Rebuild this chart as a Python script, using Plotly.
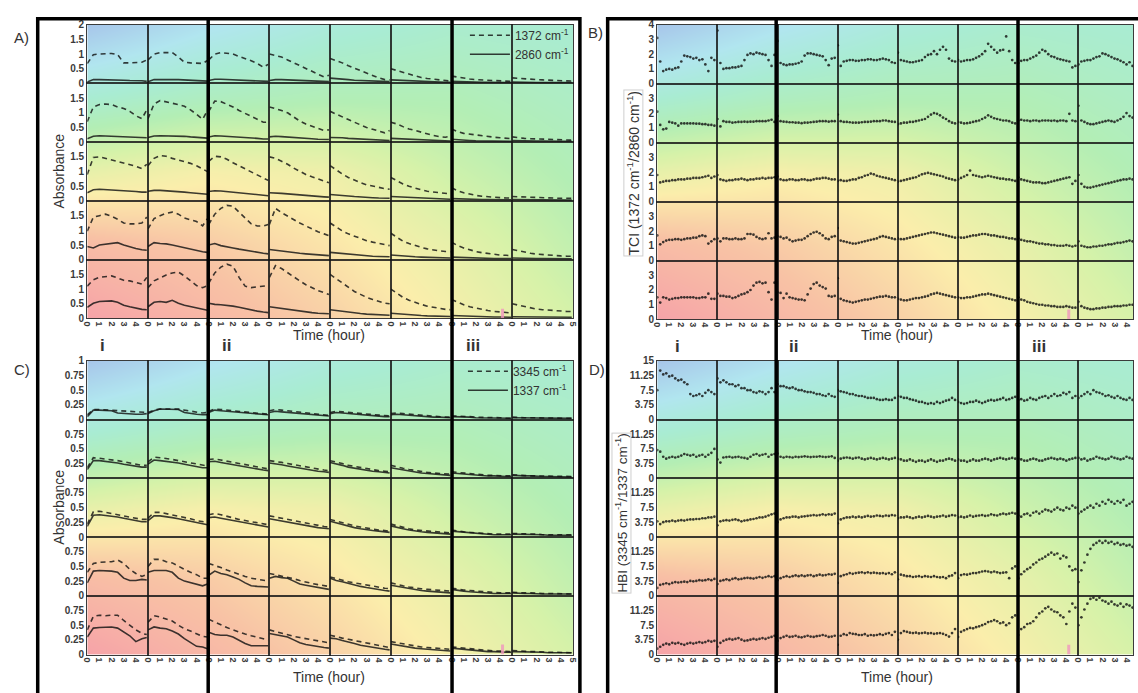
import plotly.graph_objects as go

W, H = 1138, 693

# sampling times (hours) inside every small panel
T_LINE = [0, 0.5, 1.0, 1.5, 2.0, 2.5, 3.0, 3.5, 4.0, 4.5, 4.9]
T_DOT = [0, 0.25, 0.5, 0.75, 1.0, 1.25, 1.5, 1.75, 2.0, 2.25,
         2.5, 2.75, 3.0, 3.25, 3.5, 3.75, 4.0, 4.25, 4.5, 4.75]

# ---------------- A: absorbance 1372 cm-1 (dashed) / 2860 cm-1 (solid) ----------------
A1372_R1 = [
    [0.68, 0.98, 1.00, 1.00, 1.02, 0.98, 0.70, 0.70, 0.70, 0.72, 0.80],
    [0.80, 1.00, 1.05, 1.05, 1.05, 0.90, 0.72, 0.70, 0.68, 0.68, 0.78],
    [0.80, 1.00, 1.05, 1.03, 1.00, 0.92, 0.85, 0.77, 0.68, 0.55, 0.65],
    [1.00, 0.95, 0.90, 0.80, 0.70, 0.62, 0.52, 0.42, 0.32, 0.22, 0.28],
    [0.85, 0.78, 0.70, 0.60, 0.52, 0.42, 0.34, 0.27, 0.19, 0.13, 0.12],
    [0.50, 0.44, 0.37, 0.30, 0.25, 0.20, 0.17, 0.14, 0.11, 0.09, 0.08],
    [0.25, 0.21, 0.18, 0.15, 0.13, 0.12, 0.10, 0.09, 0.08, 0.07, 0.07],
    [0.19, 0.17, 0.15, 0.14, 0.13, 0.12, 0.11, 0.10, 0.09, 0.08, 0.08],
]
A2860_R1 = [
    [0.05, 0.13, 0.13, 0.13, 0.12, 0.12, 0.11, 0.10, 0.10, 0.09, 0.07],
    [0.06, 0.13, 0.13, 0.14, 0.13, 0.13, 0.12, 0.11, 0.10, 0.09, 0.08],
    [0.10, 0.14, 0.14, 0.13, 0.13, 0.12, 0.11, 0.10, 0.09, 0.07, 0.07],
    [0.10, 0.13, 0.13, 0.12, 0.12, 0.11, 0.10, 0.09, 0.08, 0.07, 0.06],
    [0.18, 0.17, 0.15, 0.13, 0.11, 0.10, 0.09, 0.08, 0.07, 0.06, 0.06],
    [0.12, 0.11, 0.09, 0.08, 0.07, 0.06, 0.06, 0.05, 0.05, 0.04, 0.04],
    [0.07, 0.06, 0.05, 0.05, 0.04, 0.04, 0.04, 0.03, 0.03, 0.03, 0.03],
    [0.05, 0.04, 0.04, 0.04, 0.03, 0.03, 0.03, 0.03, 0.03, 0.03, 0.03],
]
A1372_R2 = [
    [0.70, 1.20, 1.28, 1.30, 1.28, 1.20, 1.15, 1.05, 0.90, 0.80, 1.10],
    [0.80, 1.30, 1.42, 1.38, 1.32, 1.28, 1.22, 1.10, 0.95, 0.78, 1.08],
    [1.05, 1.40, 1.38, 1.30, 1.20, 1.08, 0.98, 0.88, 0.78, 0.68, 0.68],
    [1.20, 1.15, 1.08, 1.00, 0.85, 0.72, 0.62, 0.55, 0.47, 0.40, 0.42],
    [1.05, 0.95, 0.85, 0.77, 0.68, 0.58, 0.50, 0.44, 0.38, 0.32, 0.40],
    [0.68, 0.62, 0.53, 0.45, 0.40, 0.34, 0.28, 0.23, 0.19, 0.17, 0.20],
    [0.45, 0.36, 0.30, 0.27, 0.24, 0.21, 0.19, 0.17, 0.15, 0.13, 0.12],
    [0.18, 0.15, 0.13, 0.12, 0.11, 0.10, 0.09, 0.08, 0.08, 0.07, 0.07],
]
A2860_R2 = [
    [0.12, 0.20, 0.22, 0.21, 0.21, 0.20, 0.20, 0.18, 0.17, 0.16, 0.15],
    [0.16, 0.21, 0.22, 0.22, 0.22, 0.22, 0.20, 0.18, 0.16, 0.14, 0.14],
    [0.18, 0.22, 0.21, 0.20, 0.19, 0.18, 0.17, 0.15, 0.13, 0.11, 0.11],
    [0.18, 0.20, 0.19, 0.18, 0.16, 0.15, 0.13, 0.12, 0.10, 0.09, 0.09],
    [0.16, 0.16, 0.15, 0.13, 0.12, 0.10, 0.09, 0.08, 0.07, 0.06, 0.06],
    [0.13, 0.12, 0.10, 0.09, 0.08, 0.07, 0.06, 0.05, 0.05, 0.04, 0.04],
    [0.10, 0.08, 0.07, 0.06, 0.05, 0.05, 0.04, 0.04, 0.03, 0.03, 0.03],
    [0.06, 0.05, 0.05, 0.04, 0.04, 0.04, 0.03, 0.03, 0.03, 0.03, 0.03],
]
A1372_R3 = [
    [0.90, 1.48, 1.50, 1.45, 1.40, 1.35, 1.30, 1.25, 1.18, 1.10, 1.25],
    [1.20, 1.45, 1.55, 1.52, 1.45, 1.40, 1.35, 1.28, 1.20, 1.10, 1.00],
    [1.35, 1.52, 1.50, 1.42, 1.30, 1.20, 1.10, 1.00, 0.90, 0.78, 0.70],
    [1.50, 1.45, 1.35, 1.25, 1.12, 1.00, 0.90, 0.82, 0.75, 0.68, 0.62],
    [1.20, 1.05, 0.92, 0.80, 0.70, 0.62, 0.55, 0.50, 0.45, 0.42, 0.40],
    [0.80, 0.68, 0.58, 0.50, 0.43, 0.38, 0.33, 0.30, 0.27, 0.25, 0.24],
    [0.45, 0.35, 0.28, 0.23, 0.19, 0.16, 0.14, 0.12, 0.11, 0.10, 0.10],
    [0.15, 0.14, 0.13, 0.12, 0.12, 0.11, 0.10, 0.10, 0.09, 0.09, 0.09],
]
A2860_R3 = [
    [0.28, 0.38, 0.40, 0.39, 0.38, 0.36, 0.35, 0.33, 0.32, 0.30, 0.30],
    [0.33, 0.36, 0.36, 0.35, 0.34, 0.32, 0.30, 0.28, 0.26, 0.24, 0.23],
    [0.32, 0.35, 0.34, 0.32, 0.30, 0.28, 0.26, 0.24, 0.22, 0.20, 0.18],
    [0.28, 0.28, 0.26, 0.24, 0.22, 0.20, 0.18, 0.16, 0.15, 0.14, 0.13],
    [0.22, 0.21, 0.19, 0.17, 0.15, 0.13, 0.12, 0.11, 0.10, 0.09, 0.09],
    [0.15, 0.14, 0.12, 0.11, 0.10, 0.09, 0.08, 0.07, 0.07, 0.06, 0.06],
    [0.08, 0.07, 0.06, 0.06, 0.05, 0.05, 0.05, 0.04, 0.04, 0.04, 0.04],
    [0.05, 0.05, 0.04, 0.04, 0.04, 0.04, 0.04, 0.03, 0.03, 0.03, 0.03],
]
A1372_R4 = [
    [0.97, 1.45, 1.50, 1.55, 1.48, 1.38, 1.25, 1.22, 1.22, 1.25, 1.45],
    [1.05, 1.40, 1.50, 1.58, 1.62, 1.55, 1.42, 1.35, 1.30, 1.15, 1.40],
    [1.20, 1.55, 1.75, 1.85, 1.82, 1.62, 1.40, 1.22, 1.15, 1.15, 1.20],
    [1.20, 1.75, 1.60, 1.48, 1.38, 1.25, 1.15, 1.05, 0.95, 0.88, 0.82],
    [1.25, 1.10, 0.98, 0.88, 0.80, 0.72, 0.65, 0.60, 0.55, 0.50, 0.48],
    [0.90, 0.75, 0.63, 0.55, 0.48, 0.42, 0.37, 0.33, 0.30, 0.28, 0.27],
    [0.60, 0.48, 0.40, 0.33, 0.28, 0.24, 0.21, 0.18, 0.16, 0.15, 0.14],
    [0.35, 0.30, 0.26, 0.22, 0.19, 0.17, 0.15, 0.14, 0.13, 0.12, 0.12],
]
A2860_R4 = [
    [0.45, 0.40, 0.50, 0.53, 0.55, 0.58, 0.50, 0.43, 0.38, 0.34, 0.32],
    [0.45, 0.58, 0.55, 0.54, 0.50, 0.45, 0.40, 0.36, 0.31, 0.27, 0.25],
    [0.50, 0.55, 0.48, 0.43, 0.40, 0.36, 0.32, 0.28, 0.25, 0.22, 0.20],
    [0.35, 0.32, 0.30, 0.27, 0.25, 0.22, 0.20, 0.18, 0.16, 0.15, 0.14],
    [0.25, 0.23, 0.20, 0.18, 0.16, 0.14, 0.13, 0.12, 0.11, 0.10, 0.10],
    [0.16, 0.14, 0.12, 0.11, 0.10, 0.09, 0.08, 0.07, 0.07, 0.06, 0.06],
    [0.09, 0.08, 0.07, 0.06, 0.06, 0.05, 0.05, 0.04, 0.04, 0.04, 0.04],
    [0.06, 0.05, 0.05, 0.05, 0.04, 0.04, 0.04, 0.04, 0.03, 0.03, 0.03],
]
A1372_R5 = [
    [1.10, 1.32, 1.40, 1.43, 1.45, 1.38, 1.30, 1.28, 1.22, 1.17, 1.40],
    [1.05, 1.28, 1.38, 1.48, 1.55, 1.58, 1.45, 1.28, 1.12, 1.05, 1.12],
    [1.20, 1.55, 1.75, 1.85, 1.78, 1.40, 1.10, 1.05, 1.08, 1.10, 1.12],
    [1.40, 1.80, 1.70, 1.55, 1.40, 1.28, 1.15, 1.05, 0.95, 0.88, 0.82],
    [1.50, 1.35, 1.20, 1.05, 0.92, 0.82, 0.72, 0.65, 0.58, 0.52, 0.50],
    [1.00, 0.85, 0.72, 0.62, 0.54, 0.48, 0.42, 0.38, 0.34, 0.31, 0.30],
    [0.65, 0.55, 0.47, 0.40, 0.35, 0.30, 0.27, 0.24, 0.22, 0.20, 0.19],
    [0.50, 0.45, 0.40, 0.36, 0.32, 0.30, 0.28, 0.26, 0.25, 0.24, 0.24],
]
A2860_R5 = [
    [0.38, 0.52, 0.58, 0.58, 0.60, 0.55, 0.45, 0.40, 0.35, 0.31, 0.30],
    [0.40, 0.55, 0.58, 0.55, 0.62, 0.52, 0.45, 0.40, 0.35, 0.30, 0.28],
    [0.52, 0.48, 0.47, 0.45, 0.42, 0.38, 0.33, 0.28, 0.25, 0.22, 0.20],
    [0.40, 0.37, 0.33, 0.30, 0.27, 0.24, 0.22, 0.20, 0.18, 0.17, 0.16],
    [0.30, 0.27, 0.24, 0.21, 0.19, 0.17, 0.15, 0.14, 0.13, 0.12, 0.11],
    [0.18, 0.16, 0.14, 0.12, 0.11, 0.10, 0.09, 0.08, 0.08, 0.07, 0.07],
    [0.10, 0.09, 0.08, 0.07, 0.06, 0.06, 0.05, 0.05, 0.05, 0.04, 0.04],
    [0.06, 0.06, 0.05, 0.05, 0.05, 0.04, 0.04, 0.04, 0.04, 0.04, 0.04],
]

# ---------------- B: TCI = A1372 / A2860 ----------------
TCI_R1 = [
    [3.1, 1.5, 0.85, 0.95, 1.0, 0.95, 1.05, 1.1, 1.5, 1.9, 1.85, 1.8, 1.7, 1.75, 1.6, 1.65, 1.3, 0.85, 1.75, 1.6],
    [3.6, 1.4, 1.0, 1.05, 1.05, 1.1, 1.1, 1.15, 1.2, 1.6, 1.95, 2.05, 2.0, 2.1, 2.05, 2.0, 1.95, 1.6, 1.2, 1.95],
    [2.9, 1.4, 1.3, 1.25, 1.3, 1.3, 1.35, 1.4, 1.5, 1.9, 2.05, 2.05, 2.0, 1.95, 1.9, 1.85, 1.6, 1.25, 1.7, 1.75],
    [2.6, 1.2, 1.5, 1.55, 1.6, 1.6, 1.55, 1.55, 1.6, 1.6, 1.65, 1.65, 1.6, 1.6, 1.65, 1.7, 1.65, 1.6, 1.45, 1.4],
    [2.1, 1.6, 1.55, 1.5, 1.45, 1.45, 1.5, 1.55, 1.6, 1.8, 1.95, 2.0, 2.2, 2.0, 2.3, 2.5, 2.3, 1.7, 1.55, 1.5],
    [1.6, 1.5, 1.55, 1.6, 1.6, 1.65, 1.75, 1.85, 2.0, 2.2, 2.7, 2.5, 2.3, 2.1, 2.25, 2.3, 3.2, 2.2, 1.6, 1.4],
    [1.4, 1.55, 1.6, 1.6, 1.7, 1.8, 1.9, 2.1, 2.3, 2.2, 2.0, 1.85, 1.8, 1.7, 1.65, 1.6, 1.55, 1.5, 1.1, 1.2],
    [1.3, 1.5, 1.55, 1.6, 1.6, 1.7, 1.8, 1.85, 2.05, 2.0, 1.9, 1.8, 1.7, 1.65, 1.55, 1.45, 1.3, 1.45, 1.2, 1.1],
]
TCI_R2 = [
    [2.1, 1.2, 0.9, 0.95, 1.4, 1.35, 1.3, 1.15, 1.3, 1.3, 1.3, 1.3, 1.3, 1.28, 1.28, 1.25, 1.25, 1.2, 1.2, 1.15],
    [1.6, 1.1, 1.45, 1.4, 1.4, 1.35, 1.38, 1.4, 1.4, 1.42, 1.4, 1.42, 1.42, 1.45, 1.45, 1.45, 1.45, 1.5, 1.55, 1.4],
    [1.8, 1.45, 1.42, 1.4, 1.38, 1.38, 1.35, 1.35, 1.32, 1.35, 1.35, 1.38, 1.4, 1.42, 1.45, 1.45, 1.45, 1.42, 1.45, 1.45],
    [1.9, 1.45, 1.4, 1.4, 1.38, 1.35, 1.35, 1.35, 1.38, 1.4, 1.4, 1.42, 1.45, 1.45, 1.45, 1.5, 1.5, 1.45, 1.42, 1.4],
    [1.25, 1.3, 1.35, 1.35, 1.4, 1.4, 1.45, 1.5, 1.55, 1.6, 1.75, 1.9, 2.0, 1.95, 1.85, 1.7, 1.6, 1.45, 1.35, 1.3],
    [1.4, 1.35, 1.3, 1.32, 1.35, 1.4, 1.45, 1.5, 1.6, 1.7, 1.85, 1.75, 1.65, 1.6, 1.55, 1.5, 1.5, 1.45, 1.35, 1.3],
    [1.5, 1.55, 1.5, 1.5, 1.45, 1.5, 1.5, 1.45, 1.5, 1.5, 1.5, 1.48, 1.5, 1.45, 1.5, 1.5, 1.45, 1.95, 1.5, 1.45],
    [2.5, 1.5, 1.4, 1.3, 1.25, 1.25, 1.3, 1.35, 1.4, 1.45, 1.5, 1.45, 1.4, 1.5, 1.6, 1.75, 2.0, 1.8, 1.7, 1.6],
]
TCI_R3 = [
    [1.8, 1.3, 1.35, 1.4, 1.4, 1.45, 1.45, 1.5, 1.5, 1.5, 1.55, 1.55, 1.6, 1.6, 1.6, 1.65, 1.7, 1.75, 1.6, 1.7],
    [1.8, 1.5, 1.45, 1.4, 1.45, 1.45, 1.5, 1.5, 1.55, 1.5, 1.45, 1.5, 1.5, 1.55, 1.55, 1.6, 1.55, 1.6, 1.6, 1.65],
    [1.7, 1.5, 1.45, 1.45, 1.5, 1.5, 1.45, 1.45, 1.5, 1.5, 1.45, 1.45, 1.5, 1.55, 1.55, 1.6, 1.6, 1.55, 1.5, 1.5],
    [1.4, 1.45, 1.4, 1.4, 1.45, 1.5, 1.5, 1.6, 1.65, 1.75, 1.8, 1.9, 1.85, 1.75, 1.7, 1.65, 1.6, 1.55, 1.5, 1.45],
    [1.35, 1.4, 1.45, 1.5, 1.55, 1.6, 1.65, 1.75, 1.85, 1.9, 1.95, 1.9, 1.85, 1.8, 1.75, 1.7, 1.6, 1.55, 1.5, 1.45],
    [1.5, 1.6, 1.7, 1.8, 2.1, 1.8, 1.75, 1.7, 1.65, 1.7, 1.75, 1.7, 1.65, 1.6, 1.55, 1.55, 1.5, 1.5, 1.45, 1.4],
    [1.65, 1.5, 1.45, 1.4, 1.35, 1.3, 1.3, 1.3, 1.25, 1.25, 1.3, 1.35, 1.4, 1.45, 1.5, 1.55, 1.6, 1.65, 1.2, 1.4],
    [1.8, 1.2, 1.0, 0.95, 0.95, 1.0, 1.05, 1.1, 1.15, 1.2, 1.25, 1.3, 1.35, 1.4, 1.45, 1.5, 1.5, 1.55, 1.5, 1.45],
]
TCI_R4 = [
    [1.7, 1.1, 1.25, 1.35, 1.4, 1.4, 1.45, 1.45, 1.4, 1.45, 1.5, 1.5, 1.55, 1.55, 1.65, 1.7, 1.65, 1.15, 1.3, 1.45],
    [1.5, 1.3, 1.5, 1.5, 1.45, 1.45, 1.5, 1.45, 1.45, 1.5, 1.8, 1.8, 1.75, 1.6, 1.5, 1.45, 1.5, 1.85, 1.5, 1.55],
    [1.65, 1.6, 1.5, 1.55, 1.4, 1.3, 1.35, 1.4, 1.4, 1.5, 1.65, 1.8, 1.9, 1.95, 1.85, 1.7, 1.5, 1.45, 1.6, 1.65],
    [2.2, 1.35, 1.3, 1.25, 1.2, 1.15, 1.15, 1.2, 1.25, 1.3, 1.35, 1.4, 1.45, 1.5, 1.6, 1.65, 1.6, 1.55, 1.5, 1.45],
    [1.5, 1.45, 1.45, 1.5, 1.55, 1.6, 1.65, 1.7, 1.75, 1.8, 1.85, 1.9, 1.9, 1.85, 1.8, 1.75, 1.7, 1.65, 1.6, 1.55],
    [1.6, 1.55, 1.55, 1.6, 1.65, 1.7, 1.7, 1.75, 1.8, 1.8, 1.75, 1.7, 1.7, 1.65, 1.6, 1.6, 1.55, 1.5, 1.5, 1.45],
    [1.5, 1.4, 1.35, 1.3, 1.3, 1.25, 1.2, 1.15, 1.15, 1.1, 1.1, 1.05, 1.05, 1.0, 1.0, 1.0, 1.05, 1.0, 0.95, 1.0],
    [1.3, 1.0, 0.95, 0.9, 0.9, 0.95, 0.95, 1.0, 1.0, 1.05, 1.1, 1.1, 1.15, 1.2, 1.2, 1.25, 1.3, 1.35, 1.3, 1.35],
]
TCI_R5 = [
    [1.5, 1.15, 1.5, 1.45, 1.35, 1.4, 1.45, 1.45, 1.5, 1.5, 1.5, 1.5, 1.5, 1.45, 1.45, 1.5, 1.5, 1.75, 1.4, 1.4],
    [1.75, 1.6, 1.6, 1.55, 1.55, 1.45, 1.5, 1.6, 1.7, 1.75, 1.85, 2.0, 2.3, 2.5, 2.55, 2.45, 2.5, 1.85, 1.35, 2.5],
    [1.85, 1.8, 1.45, 1.75, 1.5, 1.45, 1.4, 1.35, 1.35, 1.3, 1.7, 2.1, 2.4, 2.5, 2.3, 2.2, 2.1, 1.6, 1.55, 1.6],
    [2.8, 1.4, 1.3, 1.25, 1.2, 1.15, 1.2, 1.25, 1.3, 1.35, 1.35, 1.4, 1.45, 1.5, 1.55, 1.55, 1.6, 1.55, 1.5, 1.5],
    [1.4, 1.35, 1.3, 1.3, 1.35, 1.4, 1.45, 1.45, 1.5, 1.55, 1.6, 1.7, 1.75, 1.8, 1.75, 1.7, 1.65, 1.6, 1.55, 1.5],
    [1.5, 1.45, 1.45, 1.5, 1.5, 1.55, 1.6, 1.65, 1.7, 1.7, 1.75, 1.7, 1.65, 1.6, 1.55, 1.5, 1.45, 1.4, 1.35, 1.3],
    [1.5, 1.35, 1.3, 1.2, 1.15, 1.1, 1.05, 1.0, 1.0, 0.95, 0.95, 0.9, 0.9, 0.85, 0.85, 0.85, 0.9, 0.85, 0.8, 0.8],
    [1.2, 0.9, 0.8, 0.75, 0.7, 0.7, 0.75, 0.75, 0.8, 0.8, 0.85, 0.85, 0.9, 0.9, 0.9, 0.95, 0.95, 1.0, 1.0, 1.0],
]

# ---------------- C: absorbance 3345 cm-1 (dashed) / 1337 cm-1 (solid) ----------------
C3345_R1 = [
    [0.08, 0.17, 0.17, 0.17, 0.16, 0.15, 0.15, 0.14, 0.13, 0.12, 0.12],
    [0.12, 0.16, 0.18, 0.18, 0.18, 0.18, 0.16, 0.14, 0.12, 0.11, 0.12],
    [0.14, 0.18, 0.17, 0.16, 0.15, 0.14, 0.13, 0.12, 0.10, 0.09, 0.09],
    [0.15, 0.17, 0.16, 0.15, 0.14, 0.12, 0.11, 0.10, 0.09, 0.08, 0.07],
    [0.12, 0.14, 0.13, 0.12, 0.11, 0.10, 0.09, 0.08, 0.07, 0.06, 0.06],
    [0.10, 0.11, 0.10, 0.09, 0.08, 0.07, 0.06, 0.05, 0.05, 0.04, 0.04],
    [0.06, 0.06, 0.05, 0.05, 0.04, 0.04, 0.03, 0.03, 0.03, 0.02, 0.02],
    [0.04, 0.03, 0.03, 0.03, 0.03, 0.02, 0.02, 0.02, 0.02, 0.02, 0.02],
]
C1337_R1 = [
    [0.05, 0.16, 0.16, 0.16, 0.15, 0.11, 0.10, 0.10, 0.09, 0.09, 0.10],
    [0.10, 0.15, 0.18, 0.18, 0.18, 0.17, 0.12, 0.10, 0.09, 0.08, 0.08],
    [0.12, 0.16, 0.15, 0.14, 0.13, 0.12, 0.11, 0.10, 0.09, 0.08, 0.08],
    [0.12, 0.14, 0.13, 0.12, 0.11, 0.10, 0.09, 0.08, 0.07, 0.06, 0.06],
    [0.10, 0.12, 0.11, 0.10, 0.09, 0.08, 0.07, 0.06, 0.05, 0.05, 0.05],
    [0.08, 0.09, 0.08, 0.07, 0.06, 0.05, 0.05, 0.04, 0.04, 0.03, 0.03],
    [0.05, 0.05, 0.04, 0.04, 0.03, 0.03, 0.03, 0.02, 0.02, 0.02, 0.02],
    [0.03, 0.03, 0.03, 0.02, 0.02, 0.02, 0.02, 0.02, 0.02, 0.02, 0.02],
]
C3345_R2 = [
    [0.18, 0.35, 0.34, 0.33, 0.32, 0.30, 0.28, 0.26, 0.24, 0.22, 0.22],
    [0.28, 0.36, 0.35, 0.34, 0.32, 0.30, 0.28, 0.26, 0.24, 0.22, 0.21],
    [0.32, 0.33, 0.31, 0.29, 0.27, 0.25, 0.23, 0.21, 0.19, 0.17, 0.16],
    [0.30, 0.29, 0.27, 0.25, 0.23, 0.21, 0.19, 0.17, 0.15, 0.14, 0.13],
    [0.30, 0.28, 0.25, 0.22, 0.20, 0.18, 0.16, 0.14, 0.13, 0.12, 0.11],
    [0.22, 0.19, 0.17, 0.15, 0.13, 0.11, 0.10, 0.09, 0.08, 0.07, 0.07],
    [0.11, 0.10, 0.08, 0.07, 0.06, 0.06, 0.05, 0.05, 0.04, 0.04, 0.04],
    [0.06, 0.05, 0.05, 0.04, 0.04, 0.04, 0.03, 0.03, 0.03, 0.03, 0.03],
]
C1337_R2 = [
    [0.15, 0.30, 0.30, 0.29, 0.28, 0.26, 0.24, 0.22, 0.20, 0.19, 0.19],
    [0.24, 0.31, 0.30, 0.29, 0.28, 0.26, 0.24, 0.22, 0.20, 0.18, 0.18],
    [0.28, 0.29, 0.27, 0.25, 0.23, 0.21, 0.19, 0.17, 0.15, 0.14, 0.13],
    [0.26, 0.25, 0.23, 0.21, 0.19, 0.17, 0.15, 0.14, 0.12, 0.11, 0.10],
    [0.27, 0.25, 0.22, 0.19, 0.17, 0.15, 0.13, 0.12, 0.11, 0.10, 0.09],
    [0.18, 0.16, 0.14, 0.12, 0.10, 0.09, 0.08, 0.07, 0.06, 0.06, 0.05],
    [0.09, 0.08, 0.07, 0.06, 0.05, 0.05, 0.04, 0.04, 0.03, 0.03, 0.03],
    [0.05, 0.04, 0.04, 0.04, 0.03, 0.03, 0.03, 0.03, 0.03, 0.02, 0.02],
]
C3345_R3 = [
    [0.22, 0.43, 0.44, 0.42, 0.40, 0.38, 0.36, 0.34, 0.32, 0.30, 0.30],
    [0.32, 0.42, 0.42, 0.40, 0.38, 0.36, 0.34, 0.31, 0.28, 0.26, 0.25],
    [0.38, 0.40, 0.38, 0.35, 0.32, 0.30, 0.28, 0.26, 0.24, 0.22, 0.21],
    [0.36, 0.34, 0.32, 0.29, 0.27, 0.25, 0.23, 0.21, 0.19, 0.18, 0.17],
    [0.30, 0.27, 0.24, 0.21, 0.19, 0.17, 0.15, 0.13, 0.12, 0.11, 0.10],
    [0.22, 0.19, 0.16, 0.14, 0.12, 0.11, 0.10, 0.09, 0.08, 0.07, 0.07],
    [0.12, 0.10, 0.09, 0.08, 0.07, 0.06, 0.06, 0.05, 0.05, 0.05, 0.05],
    [0.06, 0.06, 0.05, 0.05, 0.05, 0.04, 0.04, 0.04, 0.04, 0.04, 0.04],
]
C1337_R3 = [
    [0.18, 0.37, 0.38, 0.37, 0.36, 0.34, 0.32, 0.30, 0.28, 0.26, 0.26],
    [0.28, 0.36, 0.36, 0.35, 0.33, 0.31, 0.29, 0.27, 0.24, 0.22, 0.21],
    [0.33, 0.34, 0.32, 0.30, 0.28, 0.26, 0.24, 0.22, 0.20, 0.18, 0.17],
    [0.31, 0.29, 0.27, 0.25, 0.23, 0.21, 0.19, 0.17, 0.16, 0.15, 0.14],
    [0.27, 0.24, 0.21, 0.18, 0.16, 0.14, 0.12, 0.11, 0.10, 0.09, 0.08],
    [0.19, 0.16, 0.14, 0.12, 0.10, 0.09, 0.08, 0.07, 0.06, 0.06, 0.05],
    [0.10, 0.09, 0.08, 0.07, 0.06, 0.05, 0.05, 0.04, 0.04, 0.04, 0.04],
    [0.05, 0.05, 0.04, 0.04, 0.04, 0.04, 0.03, 0.03, 0.03, 0.03, 0.03],
]
C3345_R4 = [
    [0.40, 0.55, 0.57, 0.57, 0.58, 0.61, 0.55, 0.45, 0.38, 0.33, 0.36],
    [0.50, 0.62, 0.62, 0.58, 0.56, 0.50, 0.45, 0.40, 0.36, 0.30, 0.30],
    [0.55, 0.52, 0.48, 0.44, 0.40, 0.36, 0.33, 0.30, 0.28, 0.27, 0.25],
    [0.38, 0.36, 0.34, 0.32, 0.29, 0.26, 0.23, 0.21, 0.19, 0.17, 0.16],
    [0.32, 0.29, 0.26, 0.24, 0.22, 0.20, 0.18, 0.16, 0.14, 0.13, 0.12],
    [0.22, 0.19, 0.17, 0.15, 0.13, 0.12, 0.11, 0.10, 0.09, 0.08, 0.08],
    [0.13, 0.11, 0.10, 0.09, 0.08, 0.07, 0.06, 0.06, 0.05, 0.05, 0.05],
    [0.06, 0.05, 0.05, 0.05, 0.04, 0.04, 0.04, 0.04, 0.03, 0.03, 0.03],
]
C1337_R4 = [
    [0.22, 0.42, 0.43, 0.43, 0.42, 0.40, 0.30, 0.26, 0.26, 0.28, 0.27],
    [0.40, 0.43, 0.43, 0.43, 0.40, 0.30, 0.25, 0.22, 0.20, 0.17, 0.20],
    [0.35, 0.42, 0.38, 0.36, 0.32, 0.28, 0.22, 0.17, 0.16, 0.16, 0.15],
    [0.30, 0.33, 0.31, 0.30, 0.25, 0.20, 0.18, 0.16, 0.14, 0.12, 0.11],
    [0.30, 0.26, 0.24, 0.21, 0.18, 0.16, 0.14, 0.12, 0.10, 0.09, 0.08],
    [0.18, 0.16, 0.14, 0.12, 0.10, 0.09, 0.08, 0.07, 0.06, 0.06, 0.05],
    [0.11, 0.09, 0.08, 0.07, 0.06, 0.05, 0.05, 0.04, 0.04, 0.04, 0.04],
    [0.05, 0.04, 0.04, 0.04, 0.03, 0.03, 0.03, 0.03, 0.03, 0.03, 0.03],
]
C3345_R5 = [
    [0.42, 0.65, 0.67, 0.66, 0.67, 0.67, 0.58, 0.50, 0.42, 0.36, 0.34],
    [0.55, 0.66, 0.64, 0.61, 0.57, 0.50, 0.44, 0.40, 0.36, 0.31, 0.30],
    [0.60, 0.55, 0.50, 0.46, 0.42, 0.38, 0.35, 0.32, 0.30, 0.27, 0.25],
    [0.42, 0.39, 0.36, 0.34, 0.31, 0.29, 0.27, 0.25, 0.23, 0.21, 0.20],
    [0.33, 0.30, 0.28, 0.26, 0.24, 0.22, 0.19, 0.17, 0.15, 0.13, 0.12],
    [0.22, 0.20, 0.18, 0.16, 0.14, 0.13, 0.12, 0.11, 0.10, 0.09, 0.09],
    [0.13, 0.12, 0.10, 0.09, 0.08, 0.08, 0.07, 0.06, 0.06, 0.05, 0.05],
    [0.07, 0.06, 0.05, 0.05, 0.05, 0.04, 0.04, 0.04, 0.04, 0.03, 0.03],
]
C1337_R5 = [
    [0.30, 0.45, 0.46, 0.47, 0.47, 0.45, 0.38, 0.32, 0.22, 0.27, 0.29],
    [0.42, 0.47, 0.45, 0.44, 0.40, 0.35, 0.27, 0.20, 0.14, 0.13, 0.10],
    [0.38, 0.34, 0.33, 0.33, 0.30, 0.24, 0.19, 0.15, 0.15, 0.16, 0.15],
    [0.36, 0.34, 0.32, 0.30, 0.25, 0.20, 0.17, 0.15, 0.13, 0.12, 0.11],
    [0.28, 0.27, 0.24, 0.22, 0.19, 0.16, 0.14, 0.12, 0.10, 0.09, 0.08],
    [0.18, 0.16, 0.14, 0.12, 0.11, 0.10, 0.09, 0.08, 0.07, 0.06, 0.06],
    [0.11, 0.10, 0.08, 0.07, 0.06, 0.06, 0.05, 0.05, 0.04, 0.04, 0.04],
    [0.05, 0.05, 0.04, 0.04, 0.04, 0.04, 0.03, 0.03, 0.03, 0.03, 0.03],
]

# ---------------- D: HBI = A3345 / A1337 ----------------
HBI_R1 = [
    [7.5, 12.5, 11.5, 11.8, 11.0, 11.2, 10.5, 10.0, 10.2, 9.5, 9.0, 6.5, 6.0, 6.2, 6.5, 6.0, 6.8, 7.5, 7.0, 6.5],
    [10.5, 9.5, 10.0, 9.5, 9.0, 9.0, 8.5, 8.8, 8.0, 8.0, 7.5, 7.5, 7.0, 6.8, 7.2, 7.0, 6.5, 7.0, 8.0, 7.0],
    [9.0, 8.5, 8.5, 8.2, 8.0, 8.2, 7.8, 7.5, 7.5, 7.2, 7.0, 7.0, 6.8, 6.5, 6.5, 6.2, 6.0, 6.5, 6.0, 5.8],
    [7.5, 7.2, 7.0, 6.8, 6.5, 6.5, 6.2, 6.0, 6.0, 5.8, 5.5, 5.5, 5.5, 5.2, 5.0, 5.0, 5.2, 5.0, 5.0, 5.5],
    [6.0, 5.8, 5.5, 5.5, 5.2, 5.0, 4.8, 4.5, 4.5, 4.2, 4.0, 4.2, 4.0, 4.5, 4.2, 4.5, 4.8, 5.0, 5.5, 5.0],
    [4.5, 4.2, 4.0, 4.2, 4.5, 4.5, 4.8, 4.5, 4.2, 4.5, 4.8, 5.0, 4.8, 5.0, 5.2, 5.5, 5.0, 5.2, 5.5, 5.8],
    [5.0, 5.2, 4.8, 5.0, 5.5, 5.2, 5.0, 5.5, 5.8, 6.0, 5.5, 6.0, 6.5, 6.0, 6.2, 6.8, 6.5, 7.0, 5.5, 6.0],
    [5.5, 6.0, 6.5, 7.0, 6.5, 7.5, 7.0, 6.8, 6.5, 6.0, 6.2, 5.8, 5.5, 6.0, 5.5, 5.2, 5.0, 5.5, 5.0, 5.2],
]
HBI_R2 = [
    [7.2, 6.8, 5.5, 5.0, 5.3, 5.5, 5.3, 5.5, 5.8, 6.2, 6.0, 5.8, 6.0, 5.5, 5.8, 6.0, 5.5, 6.0, 6.5, 7.5],
    [4.8, 4.0, 5.3, 5.4, 5.5, 5.3, 5.4, 5.5, 5.3, 5.2, 5.0, 5.5, 6.0, 6.2, 5.8, 6.0, 6.2, 5.5, 6.0, 6.2],
    [6.3, 5.5, 5.3, 5.5, 5.4, 5.3, 5.5, 5.4, 5.5, 5.6, 5.5, 5.4, 5.5, 5.5, 5.6, 5.5, 5.4, 5.5, 5.6, 5.2],
    [4.5, 5.0, 5.2, 5.3, 5.2, 5.0, 5.2, 5.3, 5.0, 4.8, 5.0, 5.2, 5.0, 4.8, 5.0, 5.2, 5.0, 4.8, 5.0, 5.2],
    [5.0, 4.8, 4.5, 4.5, 4.8, 4.5, 4.2, 4.5, 4.5, 4.2, 4.5, 4.8, 4.5, 4.2, 4.5, 4.5, 4.8, 5.0, 4.8, 4.5],
    [4.8, 4.5, 4.5, 4.2, 4.5, 4.8, 4.5, 4.5, 4.8, 5.0, 4.8, 4.5, 4.8, 5.0, 5.2, 5.0, 4.8, 5.0, 5.2, 5.0],
    [5.0, 4.8, 4.5, 4.5, 4.8, 5.0, 4.8, 4.5, 4.5, 4.8, 5.0, 5.2, 5.0, 4.8, 5.0, 4.8, 4.5, 4.8, 5.0, 5.2],
    [5.2, 4.8, 5.0, 4.5, 4.8, 5.0, 5.5, 5.2, 5.0, 4.8, 5.0, 5.5, 5.2, 5.0, 4.8, 5.0, 5.5, 5.2, 5.0, 5.5],
]
HBI_R3 = [
    [4.0, 3.3, 3.8, 4.0, 4.0, 4.2, 4.0, 4.2, 4.3, 4.2, 4.4, 4.5, 4.5, 4.6, 4.6, 4.8, 4.8, 5.0, 5.0, 5.2],
    [3.0, 4.0, 4.2, 4.3, 4.2, 4.4, 4.5, 4.3, 4.0, 4.2, 4.3, 4.5, 4.6, 4.8, 5.0, 5.0, 5.2, 5.5, 5.8, 6.0],
    [3.8, 4.5, 4.8, 5.0, 5.0, 5.2, 5.2, 5.0, 5.2, 5.3, 5.4, 5.5, 5.6, 5.5, 5.6, 5.8, 5.6, 5.8, 5.7, 6.0],
    [3.5, 4.5, 4.8, 5.0, 5.0, 5.2, 5.0, 5.2, 5.0, 5.2, 5.4, 5.2, 5.3, 5.5, 5.4, 5.3, 5.5, 5.4, 5.6, 5.5],
    [4.8, 5.0, 5.0, 5.2, 5.0, 4.8, 5.0, 5.2, 5.0, 5.2, 5.4, 5.2, 5.0, 5.2, 5.3, 5.5, 5.2, 5.4, 5.6, 5.5],
    [5.0, 5.2, 5.0, 5.2, 5.5, 5.2, 5.4, 5.5, 5.6, 5.4, 5.5, 5.8, 5.6, 5.5, 5.8, 6.0, 5.8, 6.0, 6.2, 6.0],
    [5.5, 5.2, 5.8, 6.0, 5.5, 6.2, 6.5, 6.0, 6.5, 7.0, 6.8, 6.5, 7.0, 7.5, 7.0, 6.8, 7.5, 7.2, 8.0, 7.5],
    [6.0, 6.5, 7.0, 7.5, 8.0, 7.5, 8.5, 8.0, 9.0, 8.5, 9.5, 9.0, 8.5, 9.2, 8.8, 9.5, 8.0, 8.5, 9.0, 8.5],
]
HBI_R4 = [
    [2.0, 2.8, 3.0, 3.2, 3.0, 3.3, 3.5, 3.4, 3.5, 3.6, 3.5, 3.8, 3.7, 3.8, 4.0, 3.9, 4.0, 4.2, 4.0, 4.3],
    [3.0, 3.8, 4.0, 4.2, 4.0, 4.3, 4.5, 4.2, 4.3, 4.5, 4.6, 4.5, 4.4, 4.6, 4.8, 4.6, 4.8, 5.0, 4.8, 5.0],
    [4.0, 4.5, 4.8, 5.0, 4.8, 5.0, 5.2, 5.0, 5.2, 5.0, 5.2, 5.3, 5.0, 5.2, 5.4, 5.2, 5.3, 5.5, 5.4, 5.6],
    [3.3, 5.0, 5.3, 5.5, 5.8, 5.6, 5.8, 5.9, 6.0, 5.8, 6.0, 5.8, 5.9, 5.8, 5.7, 5.8, 5.6, 5.8, 5.5, 6.0],
    [4.2, 5.4, 5.2, 5.0, 5.0, 4.8, 4.9, 5.0, 4.8, 5.0, 4.9, 4.8, 5.0, 4.8, 4.7, 4.8, 4.5, 5.0, 5.2, 5.8],
    [4.5, 5.3, 5.5, 5.4, 5.6, 5.8, 5.8, 6.0, 6.2, 6.3, 6.2, 6.0, 6.2, 6.0, 5.8, 5.9, 6.0, 4.5, 7.0, 7.5],
    [4.5, 5.5, 6.2, 6.8, 7.2, 8.0, 8.5, 9.2, 9.5, 10.0, 10.5, 11.0, 10.5, 10.8, 9.5, 10.2, 9.8, 7.5, 6.5, 6.8],
    [3.5, 6.5, 8.5, 10.5, 12.0, 13.0, 13.5, 14.0, 13.5, 14.0, 13.5, 13.8, 13.2, 13.5, 13.0, 13.2, 12.8, 13.0, 12.5, 12.8],
]
HBI_R5 = [
    [1.5, 2.0, 2.5, 2.8, 2.6, 3.0, 2.8, 3.0, 2.7, 2.5, 2.8, 3.0, 2.8, 3.0, 3.2, 3.0, 3.2, 3.5, 3.3, 3.5],
    [2.0, 3.0, 3.5, 3.8, 4.0, 3.8, 4.0, 4.2, 3.8, 3.5, 3.6, 3.8, 4.0, 3.8, 4.0, 4.2, 4.0, 4.3, 4.5, 4.8],
    [3.5, 4.2, 4.5, 4.8, 4.5, 4.6, 4.8, 4.5, 4.4, 4.6, 4.8, 4.6, 4.5, 4.7, 4.8, 5.0, 4.8, 4.5, 4.6, 4.8],
    [2.5, 4.8, 5.2, 5.0, 5.5, 5.3, 5.2, 5.0, 5.0, 5.2, 4.8, 5.0, 4.9, 5.0, 5.2, 5.0, 5.3, 5.5, 5.0, 5.8],
    [3.8, 5.5, 6.0, 5.8, 5.6, 5.5, 5.6, 5.4, 5.5, 5.6, 5.4, 5.5, 5.3, 5.4, 5.5, 5.3, 5.0, 4.6, 5.5, 6.5],
    [4.5, 5.8, 6.2, 6.5, 6.8, 6.7, 7.0, 7.2, 7.5, 7.8, 8.3, 8.5, 8.8, 8.5, 8.0, 8.2, 7.5, 8.0, 9.5, 10.0],
    [5.0, 6.5, 7.0, 7.8, 8.0, 8.5, 9.5, 10.5, 11.0, 11.8, 12.2, 11.5, 11.0, 10.8, 10.0, 9.5, 7.8, 11.0, 13.0, 12.0],
    [7.5, 9.5, 11.5, 13.0, 14.2, 14.5, 14.0, 14.5, 13.8, 13.5, 13.0, 13.5, 12.8, 12.5, 13.0, 12.2, 12.8, 12.5, 12.0, 12.5],
]

# small pink time marker drawn in the bottom panel of column 7 (time, height per panel)
MARK_T = 4.2
MARK_H = {"A": 0.33, "B": 0.67, "C": 0.17, "D": 2.5}

# background wash (value grid + colour ramp)
BG_X = [0, 0.25, 0.5, 0.75, 1.0]
BG_Y = [0, 0.25, 0.5, 0.75, 1.0]
BG_Z = [
    [0.00, 0.10, 0.20, 0.32, 0.45],
    [0.12, 0.18, 0.27, 0.38, 0.52],
    [0.38, 0.32, 0.35, 0.48, 0.58],
    [0.70, 0.62, 0.58, 0.58, 0.64],
    [1.00, 0.85, 0.74, 0.68, 0.70],
]
BG_SCALE = [
    [0.00, "#f6a3a8"],
    [0.15, "#f8c2a5"],
    [0.30, "#fbeeab"],
    [0.45, "#d6f2a9"],
    [0.57, "#b3eeb5"],
    [0.70, "#a9ecd3"],
    [0.83, "#b1e6ef"],
    [1.00, "#a7c6ea"],
]

FONT = "Liberation Sans, Arial, sans-serif"
INK = "rgba(18,18,18,0.82)"
FRAME = "rgba(25,25,25,0.85)"

PANELS = [
    dict(key="A", kind="line", x0=83, cw=61.25, y0=19, rh=59.8, ymax=2,
         yt=[0, 0.5, 1, 1.5, 2], ytl=["0", "0.5", "1", "1.5", "2"],
         series=[([A1372_R1, A1372_R2, A1372_R3, A1372_R4, A1372_R5], "5px,4px", "1372 cm<sup>-1</sup>"),
                 ([A2860_R1, A2860_R2, A2860_R3, A2860_R4, A2860_R5], "solid", "2860 cm<sup>-1</sup>")],
         legend="legend"),
    dict(key="B", kind="dot", x0=658, cw=60.7, y0=19, rh=60.0, ymax=4,
         yt=[0, 1, 2, 3, 4], ytl=["0", "1", "2", "3", "4"],
         rows=[TCI_R1, TCI_R2, TCI_R3, TCI_R4, TCI_R5]),
    dict(key="C", kind="line", x0=83, cw=61.25, y0=361, rh=59.8, ymax=1,
         yt=[0, 0.25, 0.5, 0.75, 1], ytl=["0", "0.25", "0.5", "0.75", "1"],
         series=[([C3345_R1, C3345_R2, C3345_R3, C3345_R4, C3345_R5], "5px,4px", "3345 cm<sup>-1</sup>"),
                 ([C1337_R1, C1337_R2, C1337_R3, C1337_R4, C1337_R5], "solid", "1337 cm<sup>-1</sup>")],
         legend="legend2"),
    dict(key="D", kind="dot", x0=658, cw=60.7, y0=361, rh=59.8, ymax=15,
         yt=[0, 3.75, 7.5, 11.25, 15], ytl=["0", "3.75", "7.5", "11.25", "15"],
         rows=[HBI_R1, HBI_R2, HBI_R3, HBI_R4, HBI_R5]),
]


def name(letter, k):
    return letter if k == 1 else f"{letter}{k}"


fig = go.Figure()
lay = {}

# background washes on the first four axis pairs (drawn underneath)
for i, p in enumerate(PANELS):
    k = i + 1
    full = 8 * p["cw"]
    xr = min(p["x0"] + full, W)
    lay["xaxis" + ("" if k == 1 else str(k))] = dict(
        domain=[p["x0"] / W, xr / W], range=[0, (xr - p["x0"]) / full],
        visible=False, anchor=name("y", k), fixedrange=True)
    lay["yaxis" + ("" if k == 1 else str(k))] = dict(
        domain=[1 - (p["y0"] + 5 * p["rh"]) / H, 1 - p["y0"] / H], range=[0, 1],
        visible=False, anchor=name("x", k), fixedrange=True)
    fig.add_trace(go.Heatmap(z=BG_Z, x=BG_X, y=BG_Y, colorscale=BG_SCALE, zmin=0, zmax=1,
                             zsmooth="best", showscale=False, hoverinfo="skip",
                             xaxis=name("x", k), yaxis=name("y", k)))

k = 5
for p in PANELS:
    for r in range(5):
        for c in range(8):
            left = p["x0"] + c * p["cw"]
            right = left + p["cw"]
            xmax = 5.0
            if right > W:
                xmax = 5.0 * (W - left) / p["cw"]
                right = W
            top = p["y0"] + r * p["rh"]
            bot = top + p["rh"]
            xt = [0, 1, 2, 3, 4]
            if c == 7 and p["kind"] == "line":
                xt = [0, 1, 2, 3, 4, 5]
            yt = p["yt"] if r == 0 else p["yt"][:4]
            ytl = p["ytl"] if r == 0 else p["ytl"][:4]
            xa, ya = name("x", k), name("y", k)
            lay[f"xaxis{k}"] = dict(
                domain=[left / W, right / W], range=[0, xmax], anchor=ya,
                showgrid=False, zeroline=False, showline=True, mirror=True,
                linecolor=FRAME, linewidth=1.2, ticks="",
                tickvals=xt, ticktext=[str(v) for v in xt], tickangle=90,
                showticklabels=(r == 4),
                tickfont=dict(family=FONT, size=9, color="#3a3a3a", weight="bold"),
                fixedrange=True)
            lay[f"yaxis{k}"] = dict(
                domain=[1 - bot / H, 1 - top / H], range=[0, p["ymax"]], anchor=xa,
                showgrid=False, zeroline=False, showline=True, mirror=True,
                linecolor=FRAME, linewidth=1.2, ticks="",
                tickvals=yt, ticktext=ytl, showticklabels=(c == 0),
                tickfont=dict(family=FONT, size=10, color="#3a3a3a", weight="bold"),
                fixedrange=True)
            if p["kind"] == "line":
                for si, (rows, dash, label) in enumerate(p["series"]):
                    fig.add_trace(go.Scatter(
                        x=T_LINE, y=rows[r][c], mode="lines", name=label,
                        line=dict(color=INK, width=1.6, dash=dash),
                        legend=p["legend"], legendgroup=p["key"] + str(si),
                        showlegend=(r == 0 and c == 0), hoverinfo="skip",
                        xaxis=xa, yaxis=ya))
            else:
                fig.add_trace(go.Scatter(
                    x=T_DOT, y=p["rows"][r][c], mode="markers",
                    marker=dict(color=INK, size=2.7), showlegend=False,
                    hoverinfo="skip", xaxis=xa, yaxis=ya))
            if r == 4 and c == 6:
                fig.add_trace(go.Scatter(
                    x=[MARK_T, MARK_T], y=[0, MARK_H[p["key"]]], mode="lines",
                    line=dict(color="rgba(240,150,190,0.8)", width=3),
                    showlegend=False, hoverinfo="skip", xaxis=xa, yaxis=ya))
            k += 1


def px(x):
    return x / W


def py(y):
    return 1 - y / H


# heavy frames and the group separators i | ii | iii
shapes = []
for (bx0, bx1, seps) in [(33, 580, [205, 451]), (608, 1160, [778, 1022])]:
    shapes.append(dict(type="rect", xref="paper", yref="paper",
                       x0=px(bx0), x1=px(bx1), y0=py(13), y1=py(720),
                       line=dict(color="black", width=3.5)))
    for sx in seps:
        shapes.append(dict(type="line", xref="paper", yref="paper",
                           x0=px(sx), x1=px(sx), y0=py(13), y1=py(720),
                           line=dict(color="black", width=3.5)))

ann = []


def text(x, y, s, size=14, bold=False, angle=0, **kw):
    ann.append(dict(x=px(x), y=py(y), xref="paper", yref="paper", text=s, showarrow=False,
                    textangle=angle, xanchor="center", yanchor="middle",
                    font=dict(family=FONT, size=size, color="#333",
                              weight="bold" if bold else "normal"), **kw))


text(17, 32, "A)", 15)
text(596, 27, "B)", 15)
text(17, 370, "C)", 15)
text(597, 370, "D)", 15)
text(98, 345, "i", 17, True)
text(223, 345, "ii", 17, True)
text(472, 345, "iii", 17, True)
text(678, 347, "i", 17, True)
text(795, 347, "ii", 17, True)
text(1043, 347, "iii", 17, True)
text(327, 335, "Time (hour)", 14)
text(900, 335, "Time (hour)", 14)
text(327, 683, "Time (hour)", 14)
text(900, 683, "Time (hour)", 14)
text(55, 168, "Absorbance", 14, angle=-90)
text(55, 510, "Absorbance", 14, angle=-90)
text(634, 170, "TCI (1372 cm<sup>-1</sup>/2860 cm<sup>-1</sup>)", 14, angle=-90,
     bgcolor="white", bordercolor="#cfcfcf", borderwidth=1, borderpad=0)
text(622, 516, "HBI (3345 cm<sup>-1</sup>/1337 cm<sup>-1</sup>)", 13.5, angle=-90,
     bgcolor="white", bordercolor="#cfcfcf", borderwidth=1, borderpad=0)

legend_style = dict(xanchor="left", yanchor="top", bgcolor="rgba(0,0,0,0)",
                    font=dict(family=FONT, size=12, color="#333"),
                    itemwidth=40, tracegroupgap=0, traceorder="normal")

fig.update_layout(
    width=W, height=H, margin=dict(l=0, r=0, t=0, b=0),
    paper_bgcolor="white", plot_bgcolor="rgba(0,0,0,0)",
    font=dict(family=FONT), showlegend=True,
    legend=dict(x=px(464), y=py(15), **legend_style),
    legend2=dict(x=px(462), y=py(357), **legend_style),
    shapes=shapes, annotations=ann, **lay)

fig.write_html("out.html")
